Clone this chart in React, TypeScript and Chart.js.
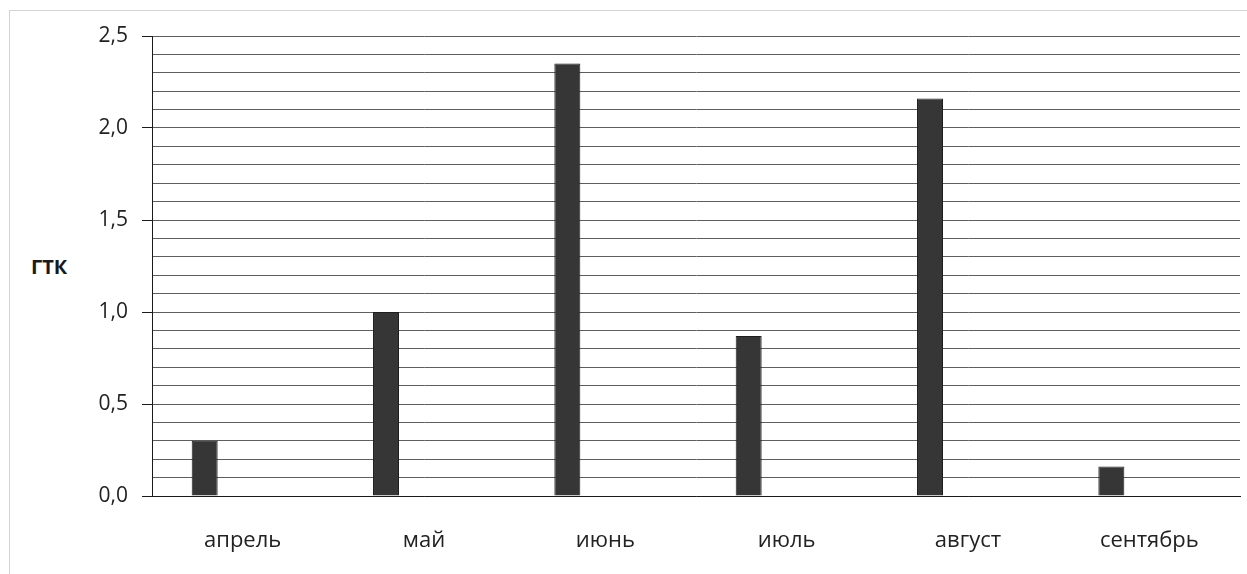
import React, { useEffect, useRef } from "react";
import { Chart, registerables } from "chart.js";

Chart.register(...registerables);

const categories = ["апрель", "май", "июнь", "июль", "август", "сентябрь"];
const gtkValues = [0.3, 1.0, 2.35, 0.87, 2.16, 0.16];
const yAxisTitle = "ГТК";
const yMin = 0;
const yMax = 2.5;
const yStep = 0.1;
const yLabelEvery = 0.5;

const FONT = "'Open Sans', 'Noto Sans', sans-serif";

function isMajor(value: number) {
  const v = Math.round(value / yStep);
  const every = Math.round(yLabelEvery / yStep);
  return v % every === 0;
}

export default function App() {
  const canvasRef = useRef<HTMLCanvasElement | null>(null);

  useEffect(() => {
    if (!canvasRef.current) return;
    const chart = new Chart(canvasRef.current, {
      type: "bar",
      data: {
        labels: categories,
        datasets: [
          {
            label: yAxisTitle,
            data: gtkValues,
            backgroundColor: "#363636",
            borderColor: "#1e1e1e",
            borderWidth: 1,
            categoryPercentage: 0.838,
            barPercentage: 0.342,
          },
          {
            label: "",
            data: [],
            backgroundColor: "#363636",
            categoryPercentage: 0.838,
            barPercentage: 0.342,
          },
        ],
      },
      options: {
        animation: false,
        responsive: true,
        maintainAspectRatio: false,
        layout: { padding: { left: 0, right: 7, top: 36, bottom: 0 } },
        plugins: {
          legend: { display: false },
          tooltip: { enabled: false },
          title: { display: false },
        },
        scales: {
          x: {
            grid: { display: false, drawTicks: false },
            border: { display: true, color: "#1a1a1a", width: 1 },
            ticks: {
              color: "#222",
              font: { family: FONT, size: 22 },
              padding: 32,
              maxRotation: 0,
            },
            afterFit: (scale: any) => {
              scale.height = 78;
            },
          },
          y: {
            min: yMin,
            max: yMax,
            ticks: {
              stepSize: yStep,
              autoSkip: false,
              color: "#222",
              font: { family: FONT, size: 21 },
              padding: 14,
              callback: (value: any) => {
                const n = Number(value);
                if (!isMajor(n)) return "";
                return (Math.round(n * 10) / 10).toFixed(1).replace(".", ",");
              },
            },
            grid: {
              color: "#5e5e5e",
              lineWidth: 1,
              tickLength: 10,
              tickColor: (ctx: any) =>
                ctx.tick && isMajor(ctx.tick.value) ? "#1a1a1a" : "rgba(0,0,0,0)",
            },
            border: { display: true, color: "#1a1a1a", width: 1 },
            afterFit: (scale: any) => {
              scale.width = 152;
            },
          },
        },
      },
    });
    return () => chart.destroy();
  }, []);

  return (
    <div
      style={{
        position: "absolute",
        left: 0,
        top: 0,
        width: 1247,
        height: 574,
        background: "#fff",
        overflow: "hidden",
      }}
    >
      <div
        style={{
          position: "absolute",
          left: 9,
          top: 10,
          width: 1240,
          height: 600,
          border: "1px solid #d4d4d4",
          boxSizing: "border-box",
        }}
      />
      <div
        style={{
          position: "absolute",
          left: 31,
          top: 253,
          fontFamily: FONT,
          fontWeight: 700,
          fontSize: 20,
          lineHeight: "28px",
          color: "#1a1a1a",
        }}
      >
        {yAxisTitle}
      </div>
      <div style={{ position: "absolute", left: 0, top: 0, width: 1247, height: 574 }}>
        <canvas ref={canvasRef} />
      </div>
    </div>
  );
}
